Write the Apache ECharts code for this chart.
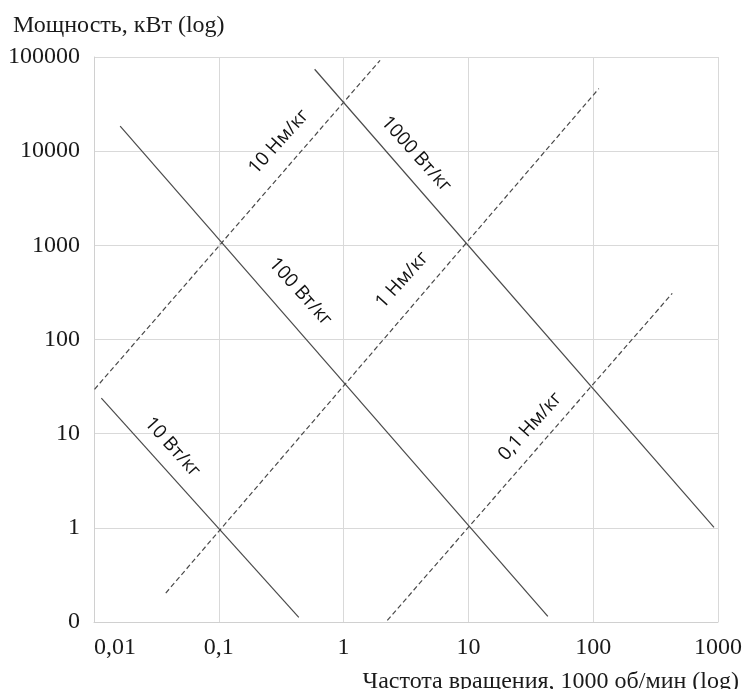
<!DOCTYPE html>
<html>
<head>
<meta charset="utf-8">
<script src="https://cdn.jsdelivr.net/npm/echarts@6/dist/echarts.min.js"></script>
<style>
html,body{margin:0;padding:0;background:#fff;}
#chart{width:745px;height:689px;}
</style>
</head>
<body>
<div id="chart"></div>
<script>
// ---- data ----
const xTickLabels = ['0,01', '0,1', '1', '10', '100', '1000'];
const yTickLabels = ['0', '1', '10', '100', '1000', '10000', '100000'];
const xRange = [0.01, 1000];
const yRange = [0.1, 100000];

// specific power lines (solid), endpoints [speed, power]
const line10W   = [[0.01145, 23.8], [0.4375, 0.112]];
const line100W  = [[0.0162, 18400], [43.3, 0.115]];
const line1000W = [[0.586, 74100], [929, 1.01]];
// specific torque lines (dashed)
const line10Nm  = [[0.0101, 29.6], [1.96, 92300]];
const line1Nm   = [[0.0376, 0.203], [111, 46200]];
const line01Nm  = [[2.24, 0.104], [430, 309]];

const labelTexts = ['10 Вт/кг', '100 Вт/кг', '1000 Вт/кг', '10 Нм/кг', '1 Нм/кг', '0,1 Нм/кг'];
const labelCoords = [[0.0425, 7.19], [0.450, 321], [3.81, 9290], [0.303, 12540], [2.95, 428], [31.3, 11.9]];

const yTitle = 'Мощность, кВт (log)';
const xTitle = 'Частота вращения, 1000 об/мин (log)';

// ---- chart ----
const chart = echarts.init(document.getElementById('chart'), null, {renderer: 'canvas'});
const serif = '"Liberation Serif", "Times New Roman", serif';
const sans = '"Open Sans", "Noto Sans", sans-serif';
const lineColor = '#4a4a4a';

function mkSeries(data, dashed, labelIdx) {
  return {
    type: 'line',
    data: data,
    symbol: 'none',
    silent: true,
    lineStyle: {color: lineColor, width: 1.2, type: dashed ? [5, 3] : 'solid'},
    markPoint: {
      symbol: 'circle',
      symbolSize: 0,
      silent: true,
      animation: false,
      data: [{
        coord: labelCoords[labelIdx],
        label: {
          show: true,
          position: 'inside',
          formatter: labelTexts[labelIdx],
          rotate: dashed ? 48 : -48,
          color: '#111',
          fontFamily: sans,
          fontSize: 19,
          fontWeight: 500,
          align: 'center',
          verticalAlign: 'middle'
        }
      }]
    }
  };
}

function expIndex(v, min) {
  return Math.round(Math.log10(v) - Math.log10(min));
}

chart.setOption({
  animation: false,
  backgroundColor: '#fff',
  title: [
    {text: yTitle, left: 8, top: 9, textStyle: {fontFamily: serif, fontSize: 24, fontWeight: 'normal', color: '#1a1a1a'}},
    {text: xTitle, right: 1, top: 665, textStyle: {fontFamily: serif, fontSize: 24, fontWeight: 'normal', color: '#1a1a1a'}}
  ],
  grid: {left: 94, right: 22, top: 57, bottom: 67, containLabel: false},
  xAxis: {
    type: 'log',
    logBase: 10,
    min: xRange[0],
    max: xRange[1],
    axisLine: {show: true, lineStyle: {color: '#d0d0d0', width: 1}},
    axisTick: {show: false},
    splitLine: {show: true, lineStyle: {color: '#d9d9d9', width: 1}},
    axisLabel: {
      margin: 14,
      fontFamily: serif,
      fontSize: 24,
      color: '#1a1a1a',
      alignMinLabel: 'left',
      formatter: v => xTickLabels[expIndex(v, xRange[0])]
    }
  },
  yAxis: {
    type: 'log',
    logBase: 10,
    min: yRange[0],
    max: yRange[1],
    axisLine: {show: true, lineStyle: {color: '#d0d0d0', width: 1}},
    axisTick: {show: false},
    splitLine: {show: true, lineStyle: {color: '#d9d9d9', width: 1}},
    axisLabel: {
      margin: 14,
      fontFamily: serif,
      fontSize: 24,
      color: '#1a1a1a',
      formatter: v => yTickLabels[expIndex(v, yRange[0])]
    }
  },
  series: [
    mkSeries(line10W, false, 0),
    mkSeries(line100W, false, 1),
    mkSeries(line1000W, false, 2),
    mkSeries(line10Nm, true, 3),
    mkSeries(line1Nm, true, 4),
    mkSeries(line01Nm, true, 5)
  ]
});
</script>
</body>
</html>
